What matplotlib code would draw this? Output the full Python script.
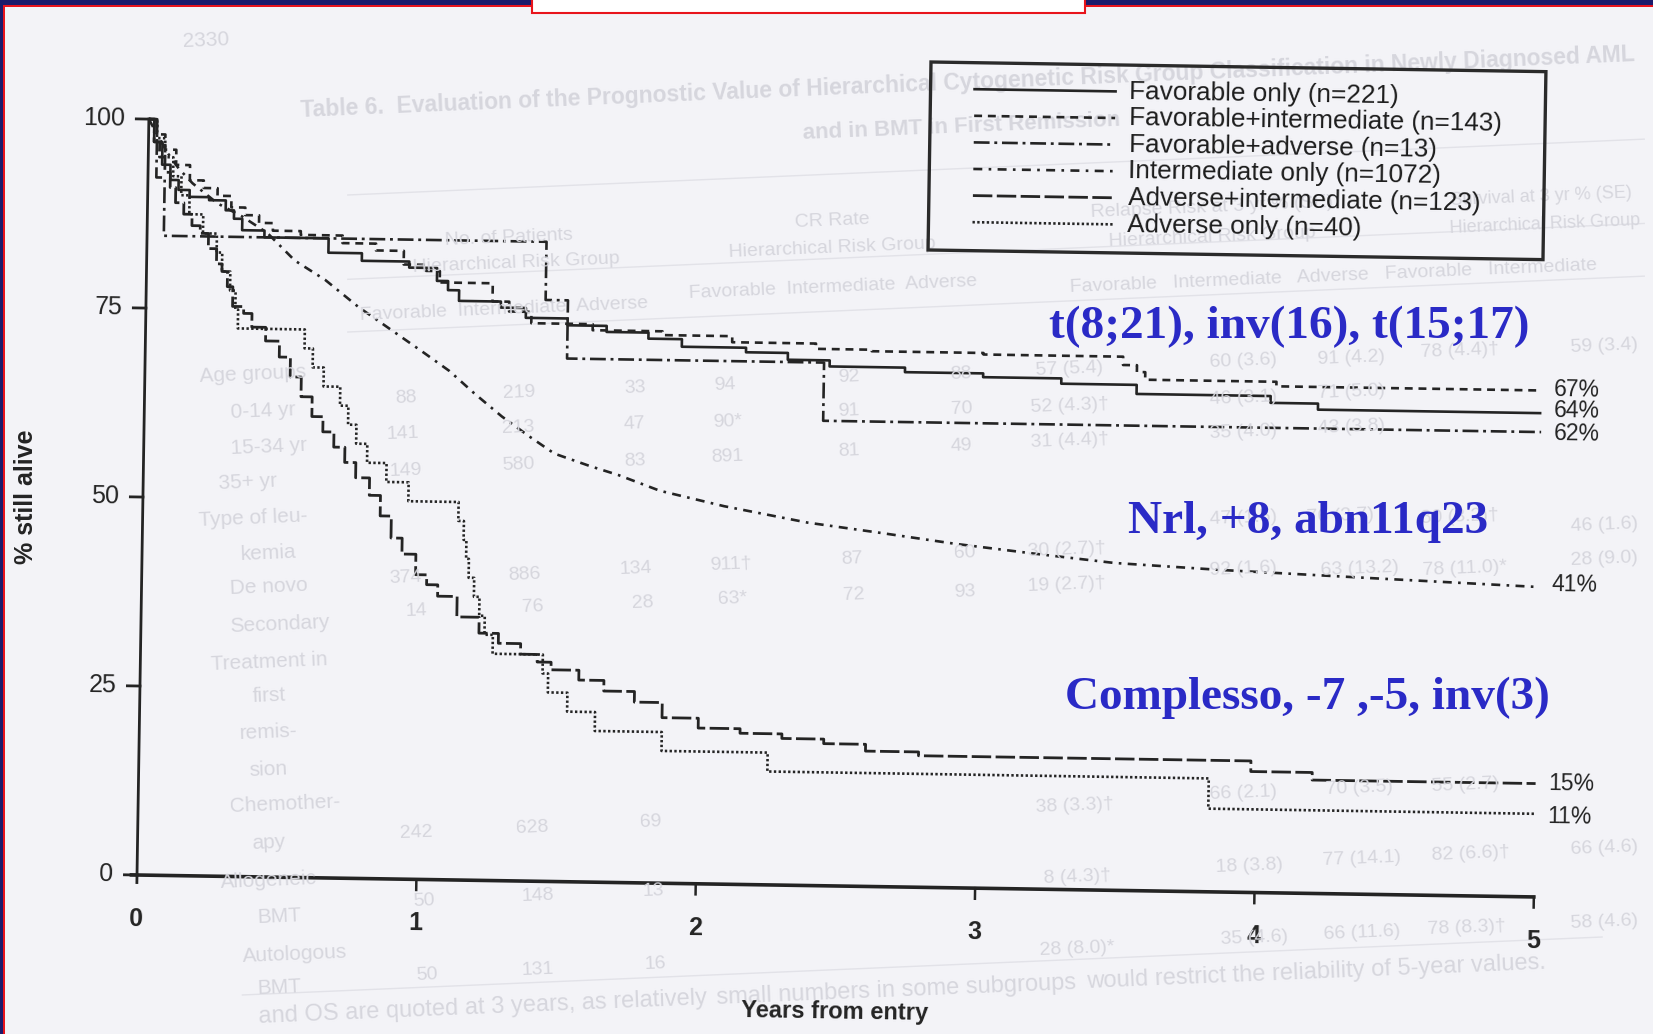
import matplotlib
matplotlib.use("Agg")
import matplotlib.pyplot as plt
from matplotlib.transforms import Affine2D
from matplotlib.lines import Line2D
from matplotlib.patches import Polygon, Rectangle

W, H = 1653, 1034
BG = "#f3f3f7"
INK = "#242424"
FAINT = "#d6d6dd"
BLUE = "#2a2ac6"

# ---------------- survival data (years, % still alive) ----------------
fav_only_t = [0, 0.02, 0.05, 0.08, 0.11, 0.15, 0.22, 0.28, 0.31, 0.34, 0.42, 0.65, 0.77,
              0.94, 1.04, 1.08, 1.12, 1.27, 1.36, 1.51, 1.65, 1.80, 1.92, 2.15, 2.30, 2.45,
              2.72, 3.00, 3.28, 3.55, 4.03, 4.20, 5.0]
fav_only_s = [100, 97, 94, 92, 90.7, 89.8, 89.4, 88.1, 87, 85.5, 84.6, 82.7, 81.7,
              80.9, 79.2, 78, 76.6, 75.8, 74.5, 73.6, 72.8, 72, 71, 70.4, 69.5, 68.7,
              68.1, 67.6, 66.9, 65.7, 64.8, 64, 64]

fav_int_t = [0, 0.03, 0.06, 0.10, 0.15, 0.20, 0.25, 0.30, 0.35, 0.40, 0.45, 0.55, 0.70,
             0.82, 0.92, 1.00, 1.05, 1.24, 1.30, 1.38, 1.60, 1.85, 2.10, 2.40, 2.60, 3.00,
             3.50, 3.55, 3.58, 4.05, 5.0]
fav_int_s = [100, 98, 96, 94, 92, 91, 90, 88.5, 87.5, 86.5, 85.5, 85, 84,
             83.1, 81.3, 80.5, 79, 76.6, 75.3, 73.8, 73, 72.5, 71.7, 71, 70.8, 70.6,
             69.5, 68.6, 67.6, 67, 67]

fav_adv_t = [0, 0.03, 0.06, 1.43, 1.51, 2.43, 5.0]
fav_adv_s = [100, 92.3, 84.6, 76.9, 69.2, 61.5, 61.5]

int_only_t = [0, 0.03, 0.07, 0.11, 0.16, 0.25, 0.34, 0.43, 0.53, 0.64, 0.76, 0.88, 1.0,
              1.09, 1.18, 1.28, 1.38, 1.47, 1.6, 1.7, 1.85, 2.08, 2.38, 2.64, 2.91, 3.21,
              3.48, 3.86, 4.42, 5.0]
int_only_s = [100, 98, 95.5, 93.5, 91.6, 89, 87.3, 85.2, 81.6, 79.1, 75.6, 72.6, 69.6,
              67.3, 64.4, 61.4, 58.8, 56.6, 55, 53.9, 51.9, 50, 48, 46.8, 45.5, 44.3,
              43.3, 42.6, 41.8, 41]

adv_int_t = [0, 0.02, 0.04, 0.06, 0.08, 0.10, 0.13, 0.16, 0.19, 0.22, 0.25, 0.27, 0.29,
             0.31, 0.35, 0.38, 0.43, 0.48, 0.52, 0.56, 0.60, 0.64, 0.68, 0.72, 0.76, 0.81,
             0.85, 0.89, 0.93, 0.98, 1.02, 1.06, 1.13, 1.21, 1.28, 1.36, 1.42, 1.47, 1.57,
             1.66, 1.77, 1.87, 2.00, 2.15, 2.30, 2.45, 2.60, 2.79, 3.98, 4.20, 5.0]
adv_int_s = [100, 97, 95, 93, 91, 89, 87.5, 86, 85, 83, 81, 80, 78,
             75.4, 74.5, 72.7, 70.9, 68.8, 66.2, 63.6, 61, 59, 57, 55, 53, 50.7,
             48, 45.1, 43, 40.3, 39, 37.5, 34.8, 32.7, 31.4, 30, 29, 28, 26.7,
             25.3, 23.9, 21.9, 20.6, 20, 19.4, 18.8, 17.9, 17.4, 16.0, 15.0, 15.0]

adv_only_t = [0, 0.03, 0.06, 0.09, 0.12, 0.15, 0.20, 0.25, 0.27, 0.30, 0.32, 0.33, 0.57,
              0.60, 0.64, 0.70, 0.73, 0.76, 0.80, 0.87, 0.95, 1.13, 1.15, 1.16, 1.17, 1.19,
              1.21, 1.23, 1.26, 1.44, 1.46, 1.53, 1.63, 1.87, 2.25, 3.83, 5.0]
adv_only_s = [100, 97.5, 95, 92.5, 90, 87.5, 85, 82.5, 80, 77.5, 75, 72.5, 70,
              67.5, 65, 62.5, 60, 57.5, 55, 52.5, 50, 47.5, 45, 42.5, 40, 37.5,
              35, 32.5, 30, 27.5, 25, 22.5, 20, 17.5, 15, 11, 11]

series_names = ["Favorable only (n=221)", "Favorable+intermediate (n=143)",
                "Favorable+adverse (n=13)", "Intermediate only (n=1072)",
                "Adverse+intermediate (n=123)", "Adverse only (n=40)"]
end_labels = ["67%", "64%", "62%", "41%", "15%", "11%"]
end_values = [67, 64, 62, 41, 15, 11]
# small vertical nudges so the stacked end labels do not collide
end_nudge = [0.2, 0.4, -0.6, 0.3, 0.0, -0.3]

x_ticks = [0, 1, 2, 3, 4, 5]
y_ticks = [0, 25, 50, 75, 100]

# ---------------- figure ----------------
plt.rcParams["font.family"] = ["Liberation Sans", "DejaVu Sans"]
fig = plt.figure(figsize=(W / 100, H / 100), dpi=100)
fig.patch.set_facecolor(BG)


def fx(x):
    return x / W


def fy(y):
    return 1 - y / H


# faint printed table behind the plot (positions on the 1568-wide layout grid)
faint_items = [
    (195, 38, "2330", 15, 0),
    (918, 78, "Table 6.  Evaluation of the Prognostic Value of Hierarchical Cytogenetic Risk Group "
              "Classification in Newly Diagnosed AML", 16.5, 1),
    (912, 120, "and in BMT in First Remission", 16, 1),
    (483, 226, "No. of Patients", 14, 0),
    (490, 250, "Hierarchical Risk Group", 14, 0),
    (478, 294, "Favorable  Intermediate  Adverse", 14, 0),
    (790, 210, "CR Rate", 14, 0),
    (790, 235, "Hierarchical Risk Group", 14, 0),
    (790, 273, "Favorable  Intermediate  Adverse", 14, 0),
    (1150, 197, "Relapse Risk at 3 yr % (SE)", 14, 0),
    (1150, 225, "Hierarchical Risk Group", 14, 0),
    (1265, 262, "Favorable   Intermediate   Adverse   Favorable   Intermediate", 14, 0),
    (1462, 187, "Survival at 3 yr % (SE)", 13, 0),
    (1466, 213, "Hierarchical Risk Group", 13, 0),
    (240, 355, "Age groups", 15, 0), (250, 390, "0-14 yr", 15, 0),
    (255, 424, "15-34 yr", 15, 0), (235, 458, "35+ yr", 15, 0),
    (240, 492, "Type of leu-", 15, 0), (255, 525, "kemia", 15, 0),
    (255, 557, "De novo", 15, 0), (265, 592, "Secondary", 15, 0),
    (255, 628, "Treatment in", 15, 0), (255, 660, "first", 15, 0),
    (255, 695, "remis-", 15, 0), (255, 730, "sion", 15, 0),
    (270, 763, "Chemother-", 15, 0), (255, 800, "apy", 15, 0),
    (255, 835, "Allogeneic", 15, 0), (265, 870, "BMT", 15, 0),
    (280, 905, "Autologous", 15, 0), (265, 937, "BMT", 15, 0),
    (385, 378, "88", 14, 0), (492, 373, "219", 14, 0), (602, 368, "33", 14, 0),
    (688, 365, "94", 14, 0), (805, 358, "92", 14, 0), (912, 355, "88", 14, 0),
    (1015, 350, "57 (5.4)", 14, 0), (1180, 343, "60 (3.6)", 14, 0),
    (1282, 340, "91 (4.2)", 14, 0), (1385, 333, "78 (4.4)\u2020", 14, 0),
    (1522, 328, "59 (3.4)", 14, 0),
    (382, 412, "141", 14, 0), (492, 406, "213", 14, 0), (602, 402, "47", 14, 0),
    (690, 400, "90*", 14, 0), (805, 390, "91", 14, 0), (912, 388, "70", 14, 0),
    (1015, 385, "52 (4.3)\u2020", 14, 0), (1180, 378, "46 (3.1)", 14, 0),
    (1282, 372, "71 (5.0)", 14, 0),
    (385, 447, "149", 14, 0), (492, 441, "580", 14, 0), (602, 437, "83", 14, 0),
    (690, 433, "891", 14, 0), (805, 428, "81", 14, 0), (912, 423, "49", 14, 0),
    (1015, 418, "31 (4.4)\u2020", 14, 0), (1180, 410, "35 (4.0)", 14, 0),
    (1282, 405, "43 (3.8)", 14, 0),
    (385, 548, "374", 14, 0), (497, 545, "886", 14, 0), (603, 540, "134", 14, 0),
    (693, 535, "911\u2020", 14, 0), (808, 530, "87", 14, 0), (915, 525, "60", 14, 0),
    (1012, 522, "30 (2.7)\u2020", 14, 0), (1180, 492, "47 (1.5)", 14, 0),
    (1272, 490, "76 (3.7)", 14, 0), (1385, 490, "80 (3.2)\u2020", 14, 0),
    (1522, 498, "46 (1.6)", 14, 0),
    (395, 580, "14", 14, 0), (505, 576, "76", 14, 0), (610, 572, "28", 14, 0),
    (695, 568, "63*", 14, 0), (810, 565, "72", 14, 0), (915, 562, "93", 14, 0),
    (1012, 555, "19 (2.7)\u2020", 14, 0), (1180, 540, "92 (1.6)", 14, 0),
    (1290, 540, "63 (13.2)", 14, 0), (1390, 540, "78 (11.0)*", 14, 0),
    (1522, 530, "28 (9.0)", 14, 0),
    (395, 790, "242", 14, 0), (505, 785, "628", 14, 0), (617, 780, "69", 14, 0),
    (1020, 765, "38 (3.3)\u2020", 14, 0), (1180, 752, "66 (2.1)", 14, 0),
    (1290, 748, "70 (3.5)", 14, 0), (1390, 745, "55 (2.7)", 14, 0),
    (402, 855, "50", 14, 0), (510, 850, "148", 14, 0), (620, 845, "13", 14, 0),
    (1022, 832, "8 (4.3)\u2020", 14, 0), (1185, 822, "18 (3.8)", 14, 0),
    (1292, 815, "77 (14.1)", 14, 0), (1395, 810, "82 (6.6)\u2020", 14, 0),
    (1522, 805, "66 (4.6)", 14, 0),
    (405, 925, "50", 14, 0), (510, 920, "131", 14, 0), (622, 915, "16", 14, 0),
    (1022, 900, "28 (8.0)*", 14, 0), (1190, 890, "35 (4.6)", 14, 0),
    (1292, 885, "66 (11.6)", 14, 0), (1392, 880, "78 (8.3)\u2020", 14, 0),
    (1522, 875, "58 (4.6)", 14, 0),
]
for xs, ys, s, size, bold in faint_items:
    fig.text(fx(xs * 1.054), fy(ys * 1.054), s, fontsize=size, color=FAINT,
             fontweight="bold" if bold else "normal", rotation=2.4,
             rotation_mode="anchor", ha="center", va="center", zorder=0)

# footnote under the table, laid along the same slant in consecutive pieces
foot_pieces = ["and OS are quoted at 3 years, as relatively",
               "small numbers in some subgroups",
               "would restrict the reliability of 5-year values."]
x_cur, slope = 245 * 1.054, 0.042
for piece in foot_pieces:
    t = fig.text(fx(x_cur), fy(1017 - slope * (x_cur - 245 * 1.054)), piece, fontsize=17,
                 color=FAINT, rotation=2.4, rotation_mode="anchor", ha="left",
                 va="center", zorder=0)
    fig.canvas.draw()
    bb = t.get_window_extent()
    x_cur += bb.width + 9

for (x0, y0, x1, y1) in [(330, 185, 1560, 132), (330, 265, 1560, 212),
                         (330, 315, 1560, 262), (230, 944, 1520, 889)]:
    fig.add_artist(Line2D([fx(x0 * 1.054), fx(x1 * 1.054)], [fy(y0 * 1.054), fy(y1 * 1.054)],
                          transform=fig.transFigure, color="#e2e2e8", lw=1.0, zorder=0))

# ---------------- plotting axes (scanned page sits at a slight angle) ----------------
ax = fig.add_axes([fx(137), fy(875), (1534 - 137) / W, (875 - 119) / H])
ax.set_xlim(0, 5)
ax.set_ylim(0, 100)
ax.axis("off")
ax.patch.set_alpha(0)
ox, oy = ax.transData.transform((0, 0))
tilt = Affine2D().rotate_deg_around(ox, oy, -0.9)
tr = ax.transData + tilt

styles = [
    dict(linestyle="-", lw=1.9),
    dict(linestyle=(0, (3.0, 2.2)), lw=1.9),
    dict(linestyle=(0, (6.0, 1.8, 1.1, 1.8)), lw=1.9),
    dict(linestyle=(0, (3.4, 2.4, 1.0, 2.4)), lw=1.9),
    dict(linestyle=(0, (7.0, 1.6)), lw=2.0),
    dict(linestyle=(0, (0.9, 0.9)), lw=1.9),
]
curves = [(fav_only_t, fav_only_s), (fav_int_t, fav_int_s), (fav_adv_t, fav_adv_s),
          (int_only_t, int_only_s), (adv_int_t, adv_int_s), (adv_only_t, adv_only_s)]
for (t, s), st, name in zip(curves, styles, series_names):
    draw = "default" if name.startswith("Intermediate") else "steps-post"
    ax.plot(t, s, drawstyle=draw, color=INK, transform=tr, clip_on=False,
            solid_capstyle="butt", dash_capstyle="butt", **st)

for v, dv, lab in zip(end_values, end_nudge, end_labels):
    ax.text(5.045, v + dv, lab, transform=tr, fontsize=16.5, color=INK, ha="left",
            va="center", rotation=-0.9, rotation_mode="anchor")

# axes lines, ticks and tick labels
ax.plot([0, 0], [-1.0, 100], color=INK, lw=2.0, transform=tr, clip_on=False)
ax.plot([-0.02, 5], [0, 0], color=INK, lw=2.6, transform=tr, clip_on=False)
for v in y_ticks:
    ax.plot([-0.045, 0], [v, v], color=INK, lw=2.0, transform=tr, clip_on=False)
    ax.text(-0.085, v, str(v), transform=tr, fontsize=18, color=INK, ha="right",
            va="center", rotation=-0.9, rotation_mode="anchor")
for x in x_ticks[1:]:
    ax.plot([x, x], [0, -1.4], color=INK, lw=1.8, transform=tr, clip_on=False)
for x in x_ticks:
    ax.text(x, -5.8, str(x), transform=tr, fontsize=18, color=INK, fontweight="bold",
            ha="center", va="center", rotation=-0.9, rotation_mode="anchor")

fig.text(fx(835), fy(1012), "Years from entry", fontsize=17, fontweight="bold",
         color=INK, ha="center", va="center", rotation=-0.9)
fig.text(fx(26), fy(497), "% still alive", fontsize=18, fontweight="bold", color=INK,
         ha="center", va="center", rotation=90)

# ---------------- legend box ----------------
leg = Affine2D().scale(1, -1).translate(0, H).rotate_deg_around(931, H - 62, -0.9)
fig.add_artist(Polygon([(931, 62), (1546, 62), (1546, 250), (931, 250)], closed=True,
                       fill=False, edgecolor="#2a2a2a", lw=2.4, transform=leg))
for i, (name, st) in enumerate(zip(series_names, styles)):
    yy = 88.5 + 26.6 * i
    fig.add_artist(Line2D([975, 1116], [yy, yy], color=INK, transform=leg,
                          dash_capstyle="butt", **st))
    fig.text(1130, yy, name, transform=leg, fontsize=18.8, color="#1c1c1c", ha="left",
             va="center", rotation=-0.9, rotation_mode="anchor")

# ---------------- group annotations ----------------
serif = ["Liberation Serif", "DejaVu Serif"]
fig.text(fx(1049), fy(327), "t(8;21), inv(16), t(15;17)", fontsize=34, fontweight="bold",
         family=serif, color=BLUE, ha="left", va="center")
fig.text(fx(1128), fy(522), "Nrl, +8, abn11q23", fontsize=34, fontweight="bold",
         family=serif, color=BLUE, ha="left", va="center")
fig.text(fx(1065), fy(698), "Complesso, -7 ,-5, inv(3)", fontsize=34, fontweight="bold",
         family=serif, color=BLUE, ha="left", va="center")

# ---------------- slide frame ----------------
frame = [
    ((0, 0), W, 5, "#1b1b6b"),
    ((0, 5), W, 2, "#e8141c"),
    ((0, 0), 3, H, "#1b1b6b"),
    ((3, 5), 1.5, H, "#e8141c"),
]
pix = Affine2D().scale(1, -1).translate(0, H)
for (x0, y0), w, h, c in frame:
    fig.add_artist(Rectangle((x0, y0), w, h, transform=pix, facecolor=c, edgecolor="none",
                             zorder=5))
fig.add_artist(Rectangle((532, -2), 553, 15, transform=pix, facecolor="white",
                         edgecolor="#e8141c", lw=1.5, zorder=6))

fig.savefig("out.png", dpi=100, facecolor=BG)
